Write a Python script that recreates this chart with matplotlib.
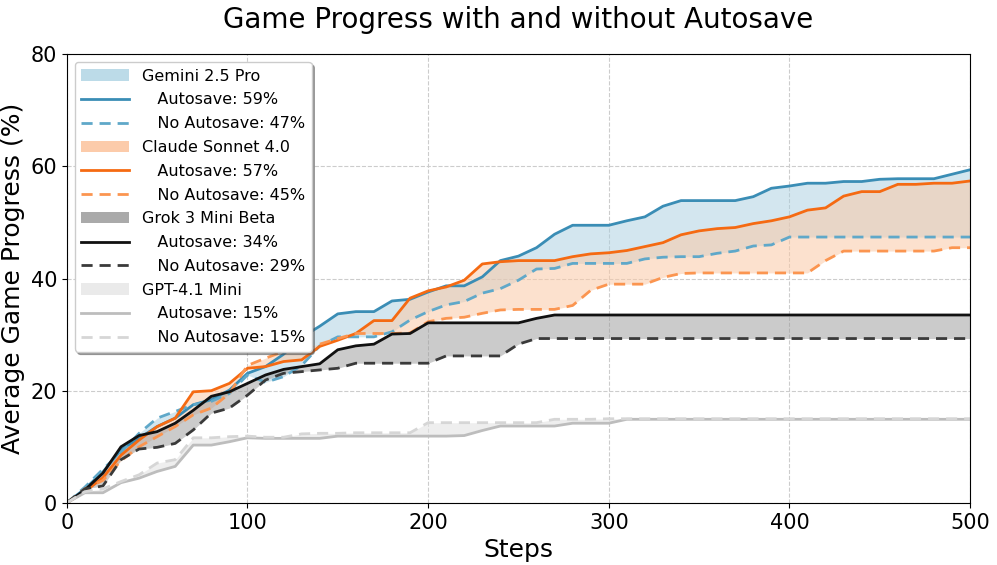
import numpy as np
import matplotlib.pyplot as plt
from matplotlib.patches import Patch
from matplotlib.lines import Line2D

steps = np.arange(0, 510, 10)

gemini_auto = [0, 2.5, 5.5, 9.5, 11.5, 13.6, 15.1, 17.5, 18.4, 20.1,
               23.1, 24.3, 26.5, 29.5, 31.5, 33.7, 34.1, 34.1, 36.0, 36.3,
               37.6, 38.7, 38.7, 40.3, 43.2, 44.0, 45.5, 47.9, 49.5, 49.5,
               49.5, 50.3, 51.0, 52.9, 53.9, 53.9, 53.9, 53.9, 54.6, 56.1,
               56.5, 57.0, 57.0, 57.3, 57.3, 57.7, 57.8, 57.8, 57.8, 58.6,
               59.4]
gemini_noauto = [0, 2.8, 6.0, 9.0, 12.4, 15.1, 16.3, 17.5, 18.1, 19.5,
                 22.8, 21.5, 22.5, 24.5, 28.0, 29.6, 29.6, 29.6, 30.5, 32.6,
                 34.1, 35.3, 35.9, 37.4, 38.2, 39.7, 41.7, 41.8, 42.7, 42.7,
                 42.7, 42.7, 43.5, 43.8, 43.9, 43.9, 44.5, 44.9, 45.8, 46.0,
                 47.4, 47.4, 47.4, 47.4, 47.4, 47.4, 47.4, 47.4, 47.4, 47.4,
                 47.4]
claude_auto = [0, 2.0, 4.5, 8.5, 11.2, 13.6, 15.1, 19.8, 20.0, 21.3,
               24.0, 24.3, 25.2, 25.5, 27.9, 29.0, 30.2, 32.5, 32.5, 36.5,
               37.8, 38.5, 39.7, 42.6, 43.0, 43.2, 43.2, 43.2, 43.9, 44.4,
               44.6, 45.0, 45.7, 46.4, 47.8, 48.5, 48.9, 49.1, 49.8, 50.3,
               51.0, 52.2, 52.6, 54.7, 55.5, 55.5, 56.8, 56.8, 57.0, 57.0,
               57.4]
claude_noauto = [0, 2.5, 4.0, 7.5, 10.0, 11.8, 13.6, 15.7, 16.9, 19.5,
                 24.5, 25.8, 27.0, 27.6, 28.3, 29.3, 30.2, 30.2, 30.2, 30.3,
                 32.3, 32.9, 33.1, 33.8, 34.4, 34.5, 34.5, 34.5, 35.2, 37.9,
                 39.0, 39.0, 39.0, 40.2, 40.9, 41.0, 41.0, 41.0, 41.0, 41.0,
                 41.0, 41.0, 43.2, 44.9, 44.9, 44.9, 44.9, 44.9, 44.9, 45.5,
                 45.5]
grok_auto = [0, 2.3, 5.3, 10.0, 12.0, 12.7, 14.2, 16.5, 19.0, 19.8,
             21.3, 22.8, 23.8, 24.3, 24.8, 27.3, 28.0, 28.3, 30.1, 30.2,
             32.1, 32.1, 32.1, 32.1, 32.1, 32.1, 32.9, 33.5, 33.5, 33.5,
             33.5, 33.5, 33.5, 33.5, 33.5, 33.5, 33.5, 33.5, 33.5, 33.5,
             33.5, 33.5, 33.5, 33.5, 33.5, 33.5, 33.5, 33.5, 33.5, 33.5,
             33.5]
grok_noauto = [0, 2.5, 3.0, 7.7, 9.6, 9.9, 10.6, 13.0, 16.0, 16.9,
               19.2, 21.9, 23.1, 23.4, 23.7, 24.0, 24.9, 24.9, 24.9, 24.9,
               24.9, 26.2, 26.2, 26.2, 26.2, 28.3, 29.3, 29.3, 29.3, 29.3,
               29.3, 29.3, 29.3, 29.3, 29.3, 29.3, 29.3, 29.3, 29.3, 29.3,
               29.3, 29.3, 29.3, 29.3, 29.3, 29.3, 29.3, 29.3, 29.3, 29.3,
               29.3]
gpt_auto = [0, 1.8, 1.8, 3.6, 4.4, 5.6, 6.5, 10.3, 10.3, 10.9,
            11.6, 11.5, 11.5, 11.5, 11.5, 11.9, 11.9, 11.9, 11.9, 11.9,
            11.9, 11.9, 12.0, 12.9, 13.7, 13.7, 13.7, 13.7, 14.2, 14.2,
            14.2, 14.9, 14.9, 14.9, 14.9, 14.9, 14.9, 14.9, 14.9, 14.9,
            14.9, 14.9, 14.9, 14.9, 14.9, 14.9, 14.9, 14.9, 14.9, 14.9,
            14.9]
gpt_noauto = [0, 2.0, 2.5, 3.8, 5.0, 7.1, 7.7, 11.6, 11.6, 11.8,
              11.9, 11.7, 11.7, 12.3, 12.4, 12.4, 12.5, 12.5, 12.5, 12.5,
              14.3, 14.3, 14.3, 14.3, 14.3, 14.3, 14.3, 14.9, 14.9, 14.9,
              15.0, 15.0, 15.0, 15.0, 15.0, 15.0, 15.0, 15.0, 15.0, 15.0,
              15.0, 15.0, 15.0, 15.0, 15.0, 15.0, 15.0, 15.0, 15.0, 15.0,
              15.0]

models = ['Gemini 2.5 Pro', 'Claude Sonnet 4.0', 'Grok 3 Mini Beta', 'GPT-4.1 Mini']
auto_pct = [59, 57, 34, 15]
noauto_pct = [47, 45, 29, 15]

series = [(gemini_auto, gemini_noauto), (claude_auto, claude_noauto),
          (grok_auto, grok_noauto), (gpt_auto, gpt_noauto)]
# (solid, dashed, fill, legend patch, fill alpha)
styles = [('#3a8db5', '#5fa8c9', '#a9cfe0', '#bcdbe8', 0.5),
          ('#f56a12', '#fb9550', '#fbc9a6', '#fccbaa', 0.55),
          ('#111111', '#3a3a3a', '#999999', '#aaaaaa', 0.5),
          ('#bdbdbd', '#d6d6d6', '#e4e4e4', '#eaeaea', 0.6)]

fig = plt.figure(figsize=(9.97, 5.65), dpi=100)
ax = fig.add_axes([0.067, 0.11, 0.906, 0.794])

handles = []
labels = []
for name, (a, n), (c_solid, c_dash, c_fill, c_leg, alpha), pa, pn in zip(
        models, series, styles, auto_pct, noauto_pct):
    ax.fill_between(steps, a, n, color=c_fill, alpha=alpha, linewidth=0)
    ax.plot(steps, a, color=c_solid, lw=2)
    ax.plot(steps, n, color=c_dash, lw=2, ls=(0, (4, 2.5)))
    handles += [Patch(facecolor=c_leg, edgecolor='none'),
                Line2D([], [], color=c_solid, lw=2),
                Line2D([], [], color=c_dash, lw=2, ls=(0, (4, 2.5)))]
    labels += [name, '   Autosave: %d%%' % pa, '   No Autosave: %d%%' % pn]

ax.set_xlim(0, 500)
ax.set_ylim(0, 80)
ax.set_xticks([0, 100, 200, 300, 400, 500])
ax.set_yticks([0, 20, 40, 60, 80])
ax.tick_params(labelsize=15)
ax.grid(True, ls='--', color='#cccccc', lw=0.8)
ax.set_axisbelow(True)
ax.set_xlabel('Steps', fontsize=18)
ax.set_ylabel('Average Game Progress (%)', fontsize=18)
ax.set_title('Game Progress with and without Autosave', fontsize=20, pad=19)

ax.legend(handles, labels, loc='upper left', fontsize=11.5, shadow=True,
          framealpha=1, handlelength=3, labelspacing=0.55)

fig.savefig('out.png', dpi=100)
